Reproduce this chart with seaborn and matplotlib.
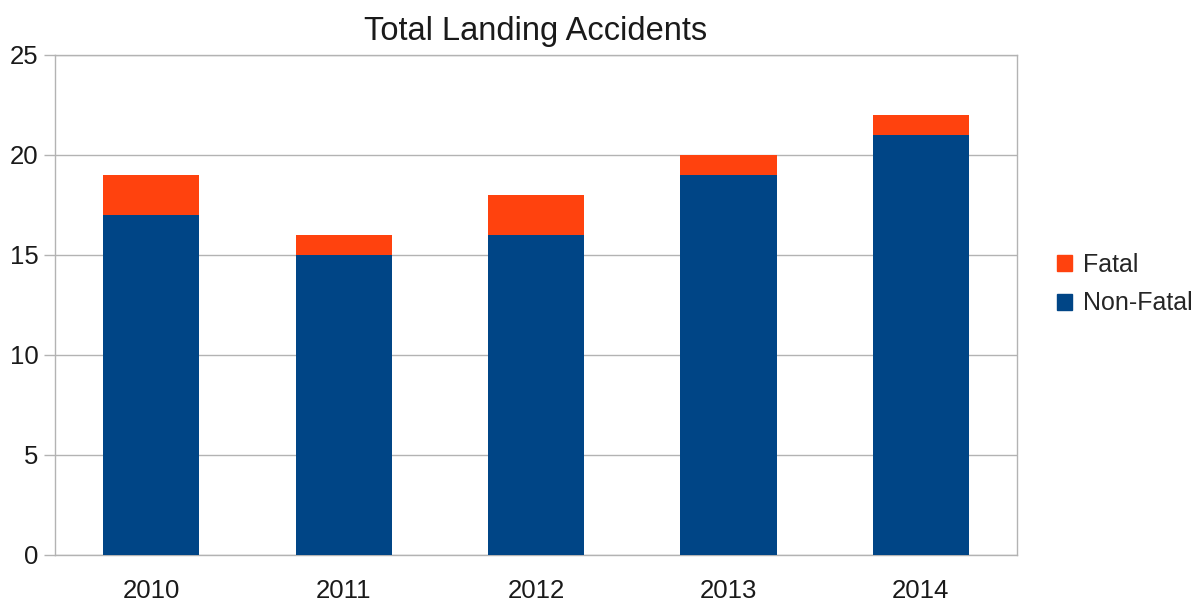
import matplotlib
matplotlib.use("Agg")
from matplotlib import pyplot as plt
from matplotlib.patches import Patch
import pandas as pd
import seaborn as sns

# data
years = ["2010", "2011", "2012", "2013", "2014"]
non_fatal = [17, 15, 16, 19, 21]
fatal = [2, 1, 2, 1, 1]

df = pd.DataFrame({"Year": years, "Non-Fatal": non_fatal, "Fatal": fatal})
df["Total"] = df["Non-Fatal"] + df["Fatal"]

sns.set_style("white")
plt.rcParams["font.family"] = ["Liberation Sans", "DejaVu Sans"]

fat_color = "#ff420e"
nonfat_color = "#004586"
grid_color = "#b3b3b3"

fig = plt.figure(figsize=(11.98, 6.01), dpi=100)
ax = fig.add_axes([55 / 1198, 46 / 601, 962 / 1198, 500 / 601])

# stacked bars: total (fatal on top) drawn first, non-fatal over it
sns.barplot(data=df, x="Year", y="Total", color=fat_color, width=0.5,
            saturation=1, ax=ax, zorder=3)
sns.barplot(data=df, x="Year", y="Non-Fatal", color=nonfat_color, width=0.5,
            saturation=1, ax=ax, zorder=3)
for p in ax.patches:
    p.set_edgecolor("none")

ax.set_ylim(0, 25)
ax.set_xlim(-0.5, len(years) - 0.5)
ax.set_yticks([0, 5, 10, 15, 20, 25])
ax.yaxis.grid(True, color=grid_color, linewidth=1, zorder=0)
ax.set_axisbelow(True)
ax.set_xlabel("")
ax.set_ylabel("")

# ticks at category boundaries like the original
ax.set_xticks([i - 0.5 for i in range(len(years) + 1)], minor=True)
ax.tick_params(axis="x", which="minor", length=10, width=1, color=grid_color)
ax.tick_params(axis="x", which="major", length=0, pad=17, labelsize=18.5, labelcolor="#1a1a1a")
ax.tick_params(axis="y", which="major", length=8, width=1, color=grid_color,
               labelsize=18.5, labelcolor="#1a1a1a", left=True, pad=4)

for s in ax.spines.values():
    s.set_color(grid_color)
    s.set_linewidth(1)

ax.set_title("Total Landing Accidents", fontsize=23.5, color="#1a1a1a", pad=11)

handles = [Patch(color=fat_color, label="Fatal"), Patch(color=nonfat_color, label="Non-Fatal")]
fig.legend(handles=handles, loc="center left", bbox_to_anchor=(1057 / 1198, 1 - 284 / 601),
           frameon=False, fontsize=18, handlelength=0.6, handleheight=0.6,
           handletextpad=0.45, labelspacing=0.6, borderaxespad=0, borderpad=0)

fig.savefig("out.png", dpi=100)
